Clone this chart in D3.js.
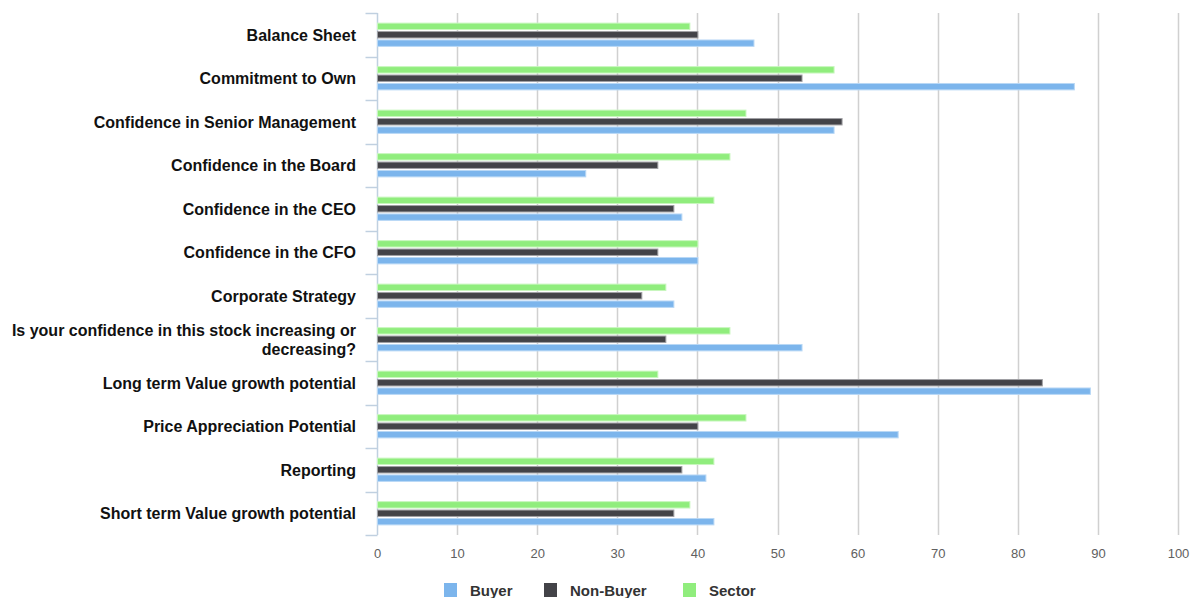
<!DOCTYPE html>
<html>
<head>
<meta charset="utf-8">
<script src="https://cdn.jsdelivr.net/npm/d3@7"></script>
<style>
  html, body { margin: 0; padding: 0; background: #fff; }
  svg { display: block; }
</style>
</head>
<body>
<svg id="chart" width="1191" height="598"></svg>
<script>
// Survey categories (top to bottom)
const categories = [
  "Balance Sheet",
  "Commitment to Own",
  "Confidence in Senior Management",
  "Confidence in the Board",
  "Confidence in the CEO",
  "Confidence in the CFO",
  "Corporate Strategy",
  "Is your confidence in this stock increasing or decreasing?",
  "Long term Value growth potential",
  "Price Appreciation Potential",
  "Reporting",
  "Short term Value growth potential"
];

// Series values per category
const buyer    = [47, 87, 57, 26, 38, 40, 37, 53, 89, 65, 41, 42];
const nonBuyer = [40, 53, 58, 35, 37, 35, 33, 36, 83, 40, 38, 37];
const sector   = [39, 57, 46, 44, 42, 40, 36, 44, 35, 46, 42, 39];

const seriesNames = ["Buyer", "Non-Buyer", "Sector"];
const xTicks = [0, 10, 20, 30, 40, 50, 60, 70, 80, 90, 100];

const series = [
  { name: "Buyer", values: buyer, fill: "#7cb5ec", stroke: "#b9d8f5" },
  { name: "Non-Buyer", values: nonBuyer, fill: "#434348", stroke: "#a0a0a4" },
  { name: "Sector", values: sector, fill: "#90ed7d", stroke: "#c8f6be" }
];

const svg = d3.select("#chart");
const plot = { left: 377, right: 1178, top: 13, bottom: 535 };

const x = d3.scaleLinear().domain([0, 100]).range([plot.left, plot.right]);
const y = d3.scaleBand().domain(categories).range([plot.top, plot.bottom]).padding(0);
// Within a category: Sector on top, then Non-Buyer, then Buyer
const ySub = d3.scaleBand()
  .domain(["Sector", "Non-Buyer", "Buyer"])
  .range([0, y.bandwidth()])
  .paddingInner(0.24)
  .paddingOuter(1.2);

// Vertical grid lines
svg.append("g")
  .selectAll("line")
  .data(xTicks.filter(d => d > 0))
  .join("line")
  .attr("x1", d => Math.round(x(d)) + 0.5)
  .attr("x2", d => Math.round(x(d)) + 0.5)
  .attr("y1", plot.top)
  .attr("y2", plot.bottom)
  .attr("stroke", "#d0d0d0")
  .attr("stroke-width", 1.5);

// X axis labels (no axis line)
const xAxis = d3.axisBottom(x).tickValues(xTicks).tickSize(0).tickPadding(14);
const gx = svg.append("g")
  .attr("transform", `translate(0,${plot.bottom})`)
  .call(xAxis);
gx.select(".domain").remove();
gx.selectAll("text")
  .attr("fill", "#606060")
  .style("font-family", "'Liberation Sans', Arial, sans-serif")
  .style("font-size", "13px");

// Category axis line and ticks on band boundaries
const yLineX = Math.round(x(0)) + 0.5;
svg.append("line")
  .attr("x1", yLineX).attr("x2", yLineX)
  .attr("y1", plot.top).attr("y2", plot.bottom)
  .attr("stroke", "#c0d0e0").attr("stroke-width", 1.5);

const boundaries = categories.map(c => y(c)).concat([plot.bottom]);
svg.append("g")
  .selectAll("line")
  .data(boundaries)
  .join("line")
  .attr("x1", yLineX - 12).attr("x2", yLineX)
  .attr("y1", d => Math.round(d) + 0.5)
  .attr("y2", d => Math.round(d) + 0.5)
  .attr("stroke", "#c0d0e0").attr("stroke-width", 1.5);

// Category labels, wrapped when too long
const labelG = svg.append("g")
  .style("font-family", "'Liberation Sans', Arial, sans-serif")
  .style("font-size", "16px")
  .style("font-weight", "bold")
  .attr("fill", "#111");

const maxLabelWidth = 350;
categories.forEach(c => {
  const cy = y(c) + y.bandwidth() / 2;
  const t = labelG.append("text")
    .attr("text-anchor", "end")
    .attr("x", 356);
  // greedy word wrap
  const words = c.split(" ");
  const lines = [];
  let line = [];
  words.forEach(w => {
    line.push(w);
    t.text(line.join(" "));
    if (t.node().getComputedTextLength() > maxLabelWidth && line.length > 1) {
      line.pop();
      lines.push(line.join(" "));
      line = [w];
    }
  });
  lines.push(line.join(" "));
  t.text(null);
  const lh = 19;
  const startY = cy - (lines.length - 1) * lh / 2 + 6;
  lines.forEach((ln, i) => {
    t.append("tspan").attr("x", 356).attr("y", startY + i * lh).text(ln);
  });
});

// Bars
series.forEach(s => {
  svg.append("g")
    .selectAll("rect")
    .data(categories)
    .join("rect")
    .attr("x", x(0) + 0.5)
    .attr("y", (c) => y(c) + ySub(s.name))
    .attr("width", (c, i) => x(s.values[i]) - x(0))
    .attr("height", ySub.bandwidth())
    .attr("fill", s.fill)
    .attr("stroke", s.stroke)
    .attr("stroke-width", 1);
});

// Legend
const legendItems = [
  { name: "Buyer", x: 444 },
  { name: "Non-Buyer", x: 544 },
  { name: "Sector", x: 683 }
];
const legend = svg.append("g").attr("transform", "translate(0,583)");
legendItems.forEach((it, i) => {
  legend.append("rect")
    .attr("x", it.x).attr("y", 0)
    .attr("width", 13).attr("height", 14)
    .attr("fill", series[i].fill);
  legend.append("text")
    .attr("x", it.x + 26).attr("y", 13)
    .style("font-family", "'Liberation Sans', Arial, sans-serif")
    .style("font-size", "15px")
    .style("font-weight", "bold")
    .attr("fill", "#333")
    .text(seriesNames[i]);
});
</script>
</body>
</html>
